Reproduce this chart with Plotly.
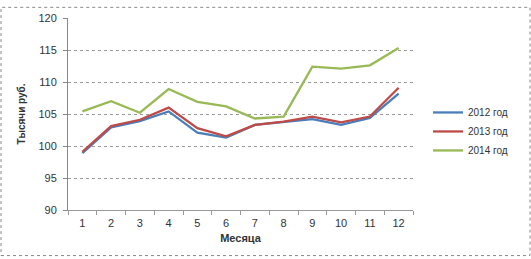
import plotly.graph_objects as go

months = [1, 2, 3, 4, 5, 6, 7, 8, 9, 10, 11, 12]
month_labels = ["1", "2", "3", "4", "5", "6", "7", "8", "9", "10", "11", "12"]
s2012 = [98.9, 102.9, 103.9, 105.4, 102.1, 101.3, 103.3, 103.7, 104.2, 103.3, 104.4, 108.2]
s2013 = [99.1, 103.1, 104.1, 106.0, 102.8, 101.5, 103.3, 103.8, 104.6, 103.7, 104.6, 109.1]
s2014 = [105.4, 107.0, 105.2, 108.9, 106.9, 106.2, 104.3, 104.6, 112.4, 112.1, 112.6, 115.3]
names = ["2012 год", "2013 год", "2014 год"]
colors = ["#4A7EBB", "#BE4B48", "#98B954"]

FONT = "Liberation Sans"
W, H = 531, 259
L, R, T, B = 68, 118, 12, 49
pw, ph = W - L - R, H - T - B

fig = go.Figure()
for name, ys, c in zip(names, [s2012, s2013, s2014], colors):
    fig.add_trace(go.Scatter(x=months, y=ys, mode="lines", name=name,
                             line=dict(color=c, width=2.3)))

fig.update_layout(
    width=W, height=H,
    margin=dict(l=L, r=R, t=T, b=B),
    paper_bgcolor="white", plot_bgcolor="white",
    font=dict(family=FONT, size=11, color="#333"),
    showlegend=True,
    legend=dict(x=(428 - L) / pw, xanchor="left", y=(210 - 129) / ph, yanchor="middle",
                font=dict(size=10, color="#333"), bgcolor="rgba(0,0,0,0)",
                itemwidth=30, tracegroupgap=0),
    xaxis=dict(range=[0.5, 12.5], tickvals=months, ticktext=month_labels,
               showgrid=False, zeroline=False, showline=True, linecolor="#999",
               ticks="", tickfont=dict(size=11), ticklabelstandoff=3,
               minor=dict(tick0=0.5, dtick=1, ticks="outside", ticklen=4, tickcolor="#999"),
               title=dict(text="<b>Месяца</b>", font=dict(size=11), standoff=6)),
    yaxis=dict(range=[90, 120], tickvals=[90, 95, 100, 105, 110, 115, 120],
               showgrid=True, gridcolor="#9a9a9a", griddash="dot", gridwidth=1,
               zeroline=False, showline=True, linecolor="#888", ticks="outside",
               ticklen=4, tickcolor="#888", tickfont=dict(size=11), ticklabelstandoff=4,
               title=dict(text="<b>Тысячи руб.</b>", font=dict(size=10), standoff=10)),
    shapes=[dict(type="rect", xref="paper", yref="paper",
                 x0=(1 - L) / pw, x1=(530 - L) / pw,
                 y0=(210 - 257) / ph, y1=(210 - 1) / ph,
                 line=dict(color="#888", width=1, dash="dot"))],
)

fig.write_html("out.html")
